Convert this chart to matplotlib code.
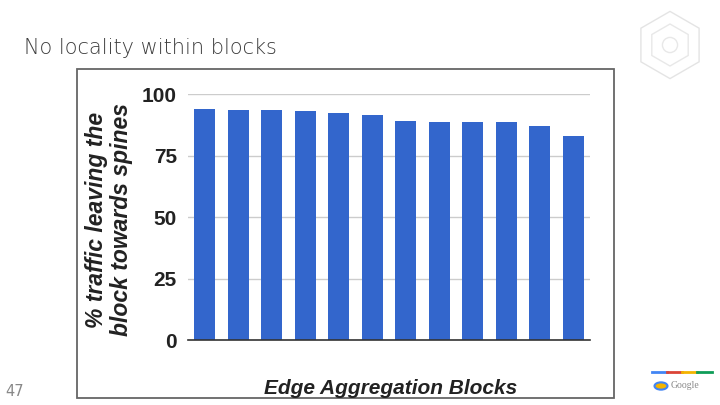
import numpy as np
import matplotlib
matplotlib.use("Agg")
import matplotlib.pyplot as plt
from matplotlib.patches import Rectangle, RegularPolygon, Circle

"""data"""
blocks = list(range(1, 13))
traffic_pct = [93.9, 93.5, 93.5, 93.1, 92.3, 91.5, 89.0, 88.6, 88.6, 88.6, 87.0, 82.9]
yticks = [0, 25, 50, 75, 100]

W, H = 720, 405


def fx(px):
    return px / W


def fy(py):
    return 1 - py / H


fig = plt.figure(figsize=(7.2, 4.05), dpi=100)
fig.patch.set_facecolor("white")

# slide title and page number
fig.text(fx(24), fy(48), "No locality within blocks", fontsize=15,
         family="DejaVu Sans", fontweight="light", color="#3c3c3c",
         va="center", ha="left")
fig.text(fx(5), fy(391), "47", fontsize=10.5, family="Liberation Sans Narrow",
         color="#888888", va="center", ha="left")

# border around the chart image
fig.add_artist(Rectangle((fx(77), fy(398)), fx(614) - fx(77), fy(69) - fy(398),
                         transform=fig.transFigure, fill=False,
                         edgecolor="#666666", lw=1.3))

"""chart"""
ax = fig.add_axes([fx(188), fy(340), fx(590) - fx(188), fy(94.3) - fy(340)])
x = np.arange(len(blocks))
ax.bar(x, traffic_pct, width=0.62, color="#3366CC", zorder=3)
ax.set_xlim(-0.5, len(blocks) - 0.5)
ax.set_ylim(0, 100)
ax.set_yticks(yticks)
ax.set_yticklabels([str(t) for t in yticks], family="Liberation Sans",
                   fontweight="bold", fontsize=15, color="#222222")
ax.set_xticks([])
ax.tick_params(axis="y", length=0, pad=8)
ax.grid(axis="y", color="#cccccc", lw=1, zorder=0)
for s in ["top", "right", "left"]:
    ax.spines[s].set_visible(False)
ax.spines["bottom"].set_color("#333333")
ax.spines["bottom"].set_linewidth(1.2)
ax.spines["bottom"].set_zorder(4)
ax.set_facecolor("none")

fig.text(fx(109), fy(220), "% traffic leaving the\nblock towards spines",
         rotation=90, family="Liberation Sans", fontweight="bold",
         style="italic", fontsize=16.5, color="#222222",
         ha="center", va="center", multialignment="center", linespacing=1.15)
fig.text(fx(391), fy(389), "Edge Aggregation Blocks", family="Liberation Sans",
         fontweight="bold", style="italic", fontsize=15, color="#222222",
         ha="center", va="center")

"""google logo bits"""
colors = ["#4285F4", "#DB4437", "#F4B400", "#0F9D58"]
for i, c in enumerate(colors):
    fig.add_artist(plt.Line2D([fx(652 + 15 * i), fx(667 + 15 * i)], [fy(372), fy(372)],
                              transform=fig.transFigure, color=c, lw=2))
fig.text(fx(671), fy(386), "Google", fontsize=7, family="Liberation Serif",
         color="#888888", va="center", ha="left")
fig.add_artist(Circle((fx(661), fy(386)), 0.009, transform=fig.transFigure,
                      color="#F4B400", ec="#4285F4", lw=1.5))

# faint watermark hexagon
wax = fig.add_axes([fx(628), fy(90), fx(84), fy(0) - fy(90)])
wax.set_xlim(-1, 1)
wax.set_ylim(-1, 1)
wax.set_aspect("equal")
wax.axis("off")
wax.add_patch(RegularPolygon((0, 0), 6, radius=0.8, fill=False, ec="#e4e4e4", lw=1))
wax.add_patch(RegularPolygon((0, 0), 6, radius=0.5, fill=False, ec="#e8e8e8", lw=1))
wax.add_patch(Circle((0, 0), 0.18, fill=False, ec="#e8e8e8", lw=1))

fig.savefig("out.png", dpi=100)
